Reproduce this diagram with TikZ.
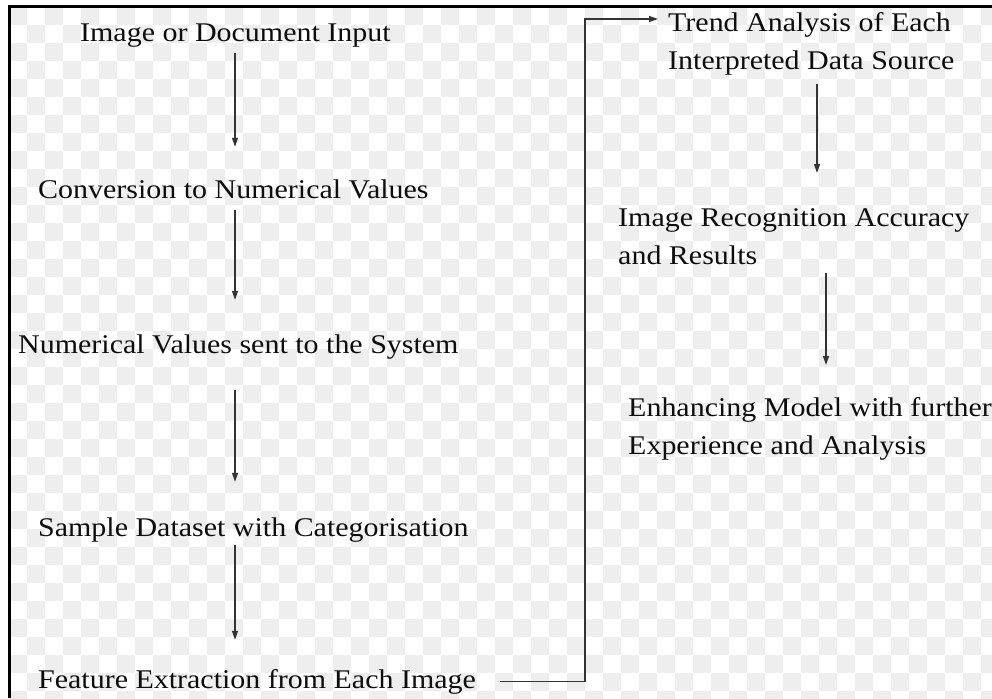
\documentclass[tikz,border=0pt]{standalone}
\usepackage{fontspec}
\setmainfont{Liberation Serif}[FakeStretch=1.11]
\usepackage{xcolor}
\usepackage{tikz}
\usetikzlibrary{arrows.meta,calc}

\definecolor{inkgray}{HTML}{333333}
\definecolor{chkgray}{HTML}{EEEEEE}

\begin{document}
\begin{tikzpicture}[x=1pt,y=-1pt,
        stage/.style={anchor=base west, inner sep=0pt, text height=19pt, text depth=6pt, font=\fontsize{27}{38}\selectfont, text=black!95},
        stagetwo/.style={anchor=north west, inner sep=0pt, align=left, font=\fontsize{27}{38}\selectfont, text=black!95},
        flow/.style={draw=inkgray, line width=1.3pt, -{Triangle[length=9pt,width=6pt]}}]
        \useasboundingbox (0,0) rectangle (992,698);
        \fill[white] (0,0) rectangle (992,698);
        % faint checker behind the chart
        \foreach \i in {0,...,54}
          \foreach \j in {0,...,38}{
            \pgfmathtruncatemacro{\odd}{mod(\i+\j,2)}
            \ifnum\odd=0 \fill[chkgray] (9+18*\i,7+18*\j) rectangle ++(18,18); \fi
          }
        \draw[line width=3pt] (9,698) -- (9,7) -- (992,7); % frame

        \node[stage] (input) at (80,42) {Image or Document Input};
        \node[stage] (conv) at (38,198) {Conversion to Numerical Values};
        \node[stage] (sent) at (18,353) {Numerical Values sent to the System};
        \node[stage] (sample) at (38,536) {Sample Dataset with Categorisation};
        \node[stage] (feature) at (38,688) {Feature Extraction from Each Image};

        \node[stagetwo] (trend) at (668,12) {Trend Analysis of Each\\Interpreted Data Source};
        \node[stagetwo] (accuracy) at (618,208) {Image Recognition Accuracy\\and Results};
        \node[stagetwo] (enhance) at (628,397) {Enhancing Model with further\\Experience and Analysis};

        \coordinate (lx) at (235,0); % left column of arrows
        \coordinate (rxa) at (817,0);
        \coordinate (rxb) at (826,0);
        \coordinate (bend) at (585,19);

        \draw[flow, shorten <=5pt, shorten >=32pt] (input.south -| lx) -- (conv.north -| lx);
        \draw[flow, shorten <=6pt, shorten >=34pt] (conv.south -| lx) -- (sent.north -| lx);
        \draw[flow, shorten <=31pt, shorten >=35pt] (sent.south -| lx) -- (sample.north -| lx);
        \draw[flow, shorten <=3pt, shorten >=29pt] (sample.south -| lx) -- (feature.north -| lx);
        \draw[flow, shorten <=24pt, shorten >=10pt] (feature.east) -| (bend) -- (bend -| trend.west);
        \draw[flow, shorten <=9pt, shorten >=35pt] (trend.south -| rxa) -- (accuracy.north -| rxa);
        \draw[flow, shorten <=8pt, shorten >=32pt] (accuracy.south -| rxb) -- (enhance.north -| rxb);
\end{tikzpicture}
\end{document}
